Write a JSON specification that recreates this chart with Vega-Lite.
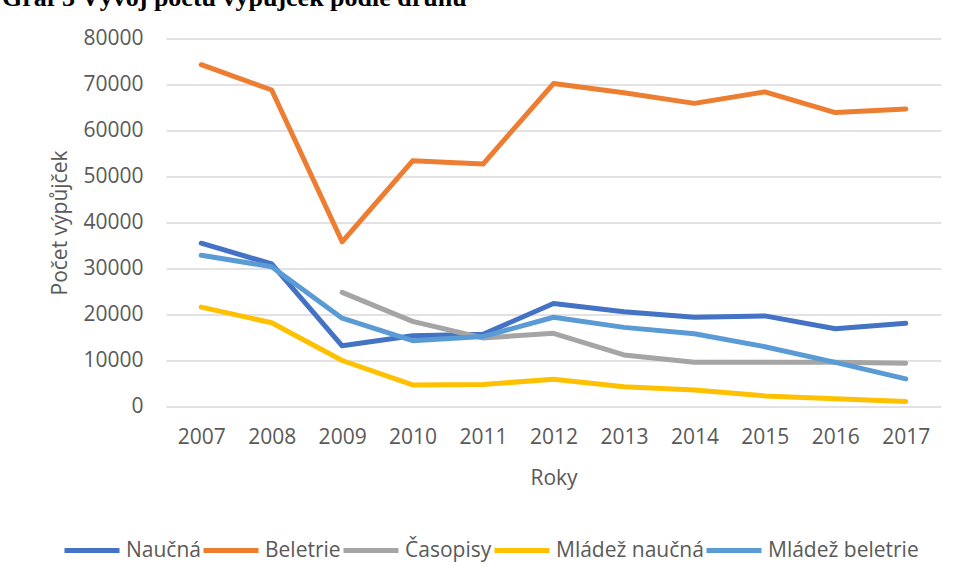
{
  "$schema": "https://vega.github.io/schema/vega-lite/v6.json",
  "autosize": "none",
  "width": 775,
  "height": 368,
  "padding": {"left": 166, "top": 38.5, "right": 16, "bottom": 172.5},
  "background": "white",
  "title": {
    "text": "Graf 3 Vývoj počtu výpůjček podle druhu",
    "anchor": "start",
    "frame": "group",
    "font": "Liberation Serif",
    "fontSize": 26,
    "fontWeight": "bold",
    "color": "#000000",
    "dx": -164,
    "offset": 17
  },
  "data": {
    "values": [
      {"rok": "2007", "druh": "Naučná", "pocet": 35500},
      {"rok": "2008", "druh": "Naučná", "pocet": 31000},
      {"rok": "2009", "druh": "Naučná", "pocet": 13200},
      {"rok": "2010", "druh": "Naučná", "pocet": 15400},
      {"rok": "2011", "druh": "Naučná", "pocet": 15700},
      {"rok": "2012", "druh": "Naučná", "pocet": 22400},
      {"rok": "2013", "druh": "Naučná", "pocet": 20600},
      {"rok": "2014", "druh": "Naučná", "pocet": 19400},
      {"rok": "2015", "druh": "Naučná", "pocet": 19700},
      {"rok": "2016", "druh": "Naučná", "pocet": 16900},
      {"rok": "2017", "druh": "Naučná", "pocet": 18100},
      {"rok": "2007", "druh": "Beletrie", "pocet": 74300},
      {"rok": "2008", "druh": "Beletrie", "pocet": 68800},
      {"rok": "2009", "druh": "Beletrie", "pocet": 35800},
      {"rok": "2010", "druh": "Beletrie", "pocet": 53400},
      {"rok": "2011", "druh": "Beletrie", "pocet": 52700},
      {"rok": "2012", "druh": "Beletrie", "pocet": 70200},
      {"rok": "2013", "druh": "Beletrie", "pocet": 68200},
      {"rok": "2014", "druh": "Beletrie", "pocet": 65900},
      {"rok": "2015", "druh": "Beletrie", "pocet": 68400},
      {"rok": "2016", "druh": "Beletrie", "pocet": 63900},
      {"rok": "2017", "druh": "Beletrie", "pocet": 64700},
      {"rok": "2009", "druh": "Časopisy", "pocet": 24800},
      {"rok": "2010", "druh": "Časopisy", "pocet": 18500},
      {"rok": "2011", "druh": "Časopisy", "pocet": 14900},
      {"rok": "2012", "druh": "Časopisy", "pocet": 15900},
      {"rok": "2013", "druh": "Časopisy", "pocet": 11200},
      {"rok": "2014", "druh": "Časopisy", "pocet": 9600},
      {"rok": "2015", "druh": "Časopisy", "pocet": 9600},
      {"rok": "2016", "druh": "Časopisy", "pocet": 9600},
      {"rok": "2017", "druh": "Časopisy", "pocet": 9400},
      {"rok": "2007", "druh": "Mládež naučná", "pocet": 21600},
      {"rok": "2008", "druh": "Mládež naučná", "pocet": 18200},
      {"rok": "2009", "druh": "Mládež naučná", "pocet": 10000},
      {"rok": "2010", "druh": "Mládež naučná", "pocet": 4700},
      {"rok": "2011", "druh": "Mládež naučná", "pocet": 4800},
      {"rok": "2012", "druh": "Mládež naučná", "pocet": 5900},
      {"rok": "2013", "druh": "Mládež naučná", "pocet": 4300},
      {"rok": "2014", "druh": "Mládež naučná", "pocet": 3600},
      {"rok": "2015", "druh": "Mládež naučná", "pocet": 2300},
      {"rok": "2016", "druh": "Mládež naučná", "pocet": 1700},
      {"rok": "2017", "druh": "Mládež naučná", "pocet": 1100},
      {"rok": "2007", "druh": "Mládež beletrie", "pocet": 32900},
      {"rok": "2008", "druh": "Mládež beletrie", "pocet": 30400},
      {"rok": "2009", "druh": "Mládež beletrie", "pocet": 19200},
      {"rok": "2010", "druh": "Mládež beletrie", "pocet": 14300},
      {"rok": "2011", "druh": "Mládež beletrie", "pocet": 15200},
      {"rok": "2012", "druh": "Mládež beletrie", "pocet": 19400},
      {"rok": "2013", "druh": "Mládež beletrie", "pocet": 17200},
      {"rok": "2014", "druh": "Mládež beletrie", "pocet": 15800},
      {"rok": "2015", "druh": "Mládež beletrie", "pocet": 13000},
      {"rok": "2016", "druh": "Mládež beletrie", "pocet": 9600},
      {"rok": "2017", "druh": "Mládež beletrie", "pocet": 6000}
    ]
  },
  "mark": {"type": "line", "strokeWidth": 5, "strokeCap": "round", "strokeJoin": "round"},
  "encoding": {
    "x": {
      "field": "rok",
      "type": "ordinal",
      "title": "Roky",
      "scale": {"type": "point", "padding": 0.5},
      "axis": {
        "labelAngle": 0,
        "domain": false,
        "ticks": false,
        "grid": false,
        "labelPadding": 20,
        "titlePadding": 20
      }
    },
    "y": {
      "field": "pocet",
      "type": "quantitative",
      "title": "Počet výpůjček",
      "scale": {"domain": [0, 80000], "nice": false},
      "axis": {
        "values": [0, 10000, 20000, 30000, 40000, 50000, 60000, 70000, 80000],
        "format": "d",
        "domain": false,
        "ticks": false,
        "grid": true,
        "gridColor": "#d9d9d9",
        "gridWidth": 1.5,
        "labelPadding": 23,
        "titlePadding": 12
      }
    },
    "color": {
      "field": "druh",
      "type": "nominal",
      "sort": ["Naučná", "Beletrie", "Časopisy", "Mládež naučná", "Mládež beletrie"],
      "scale": {
        "domain": ["Naučná", "Beletrie", "Časopisy", "Mládež naučná", "Mládež beletrie"],
        "range": ["#4472C4", "#ED7D31", "#A5A5A5", "#FFC000", "#5B9BD5"]
      },
      "legend": {
        "title": null,
        "orient": "none",
        "direction": "horizontal",
        "legendX": -104,
        "legendY": 482,
        "symbolType": "stroke",
        "symbolSize": 3025,
        "symbolStrokeWidth": 5,
        "labelOffset": 4,
        "columnPadding": -8
      }
    }
  },
  "config": {
    "font": "Open Sans",
    "view": {"stroke": null},
    "axis": {
      "labelFont": "Open Sans",
      "labelFontSize": 21,
      "labelColor": "#595959",
      "titleFont": "Open Sans",
      "titleFontSize": 21,
      "titleFontWeight": "normal",
      "titleColor": "#595959"
    },
    "legend": {
      "labelFont": "Open Sans",
      "labelFontSize": 21,
      "labelColor": "#595959",
      "labelLimit": 300
    }
  }
}
